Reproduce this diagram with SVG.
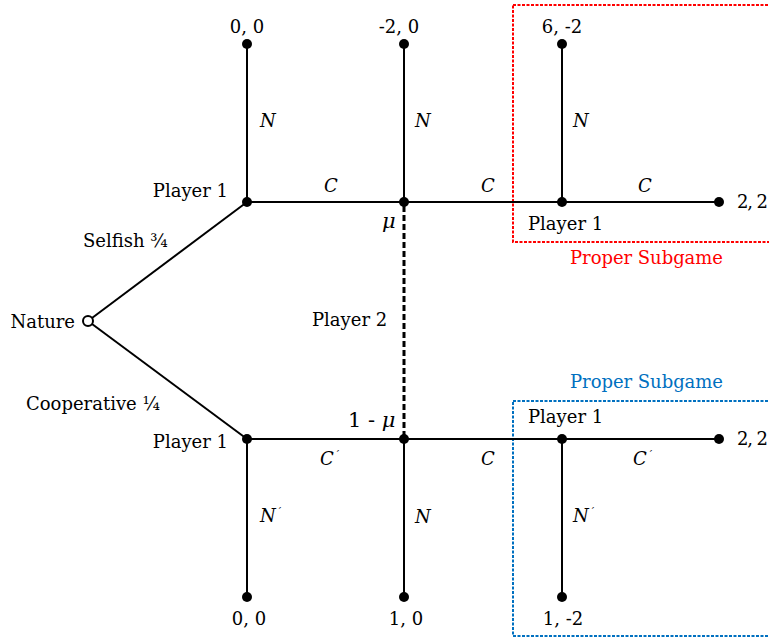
<svg xmlns="http://www.w3.org/2000/svg" width="769" height="637" viewBox="0 0 769 637">
<style>
text{font-family:"DejaVu Serif","Liberation Serif",serif;font-size:18px;fill:#000}
.it{font-style:italic}
.edge{stroke:#000;stroke-width:2;fill:none}
.info{stroke:#000;stroke-width:3;stroke-dasharray:6 3;fill:none}
.dot{fill:#000}
.red{fill:none;stroke:#FF0000;stroke-width:2;stroke-dasharray:3 1.5}
.blue{fill:none;stroke:#0070C0;stroke-width:2;stroke-dasharray:3 1.5}
.pr{font-size:11px}
</style>
<g id="subgames">
<rect class="red" x="513" y="5" width="280" height="237"/>
<text x="570" y="264" style="fill:#FF0000" textLength="153">Proper Subgame</text>
<rect class="blue" x="513" y="401" width="280" height="235"/>
<text x="570" y="388" style="fill:#0070C0" textLength="153">Proper Subgame</text>
</g>
<g id="connectors">
<line class="edge" x1="88" y1="321" x2="247" y2="202"/>
<line class="edge" x1="88" y1="321" x2="247" y2="439"/>
<line class="edge" x1="247" y1="202" x2="719" y2="202"/>
<line class="edge" x1="247" y1="439" x2="719" y2="439"/>
<line class="edge" x1="247" y1="44" x2="247" y2="202"/>
<line class="edge" x1="404" y1="44" x2="404" y2="202"/>
<line class="edge" x1="562" y1="44" x2="562" y2="202"/>
<line class="edge" x1="247" y1="439" x2="247" y2="597"/>
<line class="edge" x1="404" y1="439" x2="404" y2="597"/>
<line class="edge" x1="562" y1="439" x2="562" y2="597"/>
<line class="info" x1="404" y1="206" x2="404" y2="435"/>
<text class="it" x="260" y="127">N</text>
<text class="it" x="415" y="127">N</text>
<text class="it" x="573" y="127">N</text>
<text class="it" x="324" y="192">C</text>
<text class="it" x="481" y="192">C</text>
<text class="it" x="638" y="192">C</text>
<text class="it" x="320" y="465">C<tspan class="pr" dx="3" dy="-7">′</tspan></text>
<text class="it" x="481" y="465">C</text>
<text class="it" x="633" y="465">C<tspan class="pr" dx="3" dy="-7">′</tspan></text>
<text class="it" x="260" y="522">N<tspan class="pr" dx="3" dy="-7">′</tspan></text>
<text class="it" x="415" y="523">N</text>
<text class="it" x="573" y="522">N<tspan class="pr" dx="3" dy="-7">′</tspan></text>
<text x="83" y="247">Selfish ¾</text>
<text x="26" y="410">Cooperative ¼</text>
<text x="312" y="326">Player 2</text>
</g>
<g id="nature">
<circle cx="88" cy="321" r="5" fill="#fff" stroke="#000" stroke-width="2"/>
<text x="75" y="328" text-anchor="end">Nature</text>
</g>
<g id="p1-top">
<circle class="dot" cx="247" cy="202" r="5"/>
<text x="228" y="197" text-anchor="end">Player 1</text>
</g>
<g id="p2-top">
<circle class="dot" cx="404" cy="202" r="5"/>
<text class="it" x="382" y="228" style="font-size:21px">μ</text>
</g>
<g id="p1-top-right">
<circle class="dot" cx="562" cy="202" r="5"/>
<text x="528" y="230">Player 1</text>
</g>
<g id="t-top-right">
<circle class="dot" cx="719" cy="202" r="5"/>
<text x="737" y="208" textLength="31">2, 2</text>
</g>
<g id="t-top-1">
<circle class="dot" cx="247" cy="44" r="5"/>
<text x="247" y="33" text-anchor="middle">0, 0</text>
</g>
<g id="t-top-2">
<circle class="dot" cx="404" cy="44" r="5"/>
<text x="399" y="33" text-anchor="middle">-2, 0</text>
</g>
<g id="t-top-3">
<circle class="dot" cx="562" cy="44" r="5"/>
<text x="562" y="33" text-anchor="middle">6, -2</text>
</g>
<g id="p1-bottom">
<circle class="dot" cx="247" cy="439" r="5"/>
<text x="228" y="448" text-anchor="end">Player 1</text>
</g>
<g id="p2-bottom">
<circle class="dot" cx="404" cy="439" r="5"/>
<text x="348" y="427" style="font-size:21px">1 - <tspan class="it">μ</tspan></text>
</g>
<g id="p1-bottom-right">
<circle class="dot" cx="562" cy="439" r="5"/>
<text x="528" y="423">Player 1</text>
</g>
<g id="t-bottom-right">
<circle class="dot" cx="719" cy="439" r="5"/>
<text x="737" y="445" textLength="31">2, 2</text>
</g>
<g id="t-bottom-1">
<circle class="dot" cx="247" cy="597" r="5"/>
<text x="249" y="625" text-anchor="middle">0, 0</text>
</g>
<g id="t-bottom-2">
<circle class="dot" cx="404" cy="597" r="5"/>
<text x="406" y="625" text-anchor="middle">1, 0</text>
</g>
<g id="t-bottom-3">
<circle class="dot" cx="562" cy="597" r="5"/>
<text x="563" y="625" text-anchor="middle">1, -2</text>
</g>
</svg>
